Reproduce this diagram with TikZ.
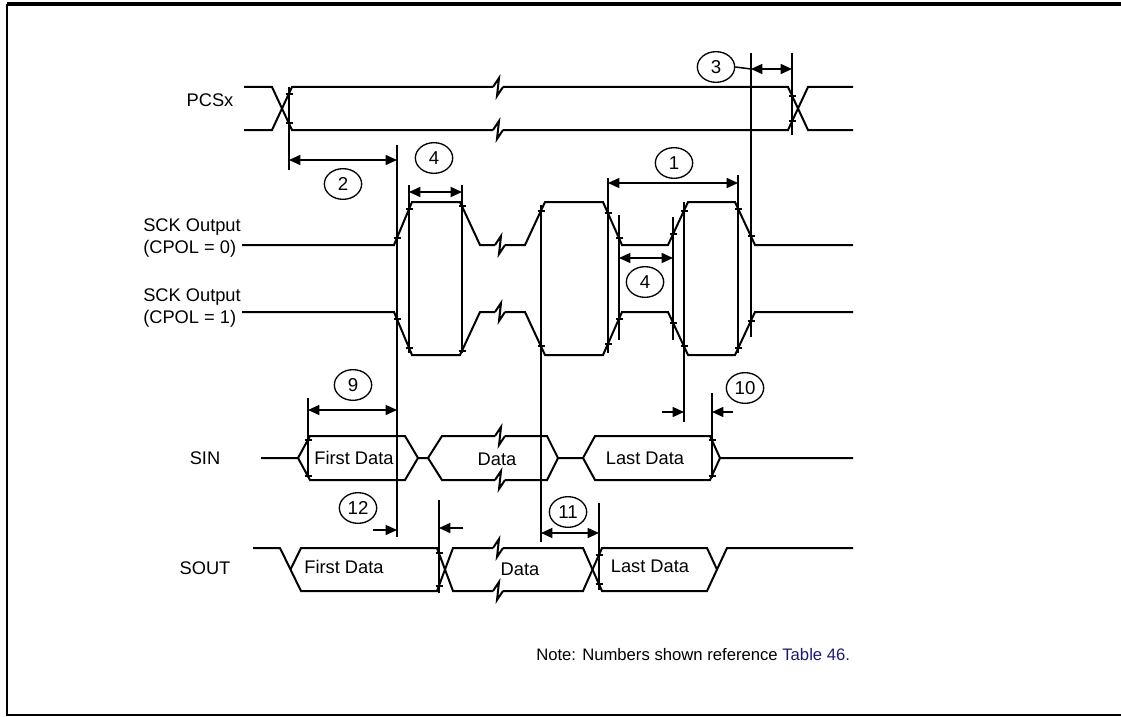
\documentclass[tikz,border=0pt]{standalone}
\usepackage{fontspec}
\setmainfont{Liberation Sans}
\usetikzlibrary{arrows.meta,shapes.geometric}
\definecolor{tabblue}{RGB}{25,25,120}
\newcommand\tk[2]{\draw[tickmark] (#1-3.5,#2) -- (#1+3.5,#2);}
\newcommand\brk[2]{\draw[wave] (#1-5,#2) -- (#1+1,#2-9) -- (#1-1,#2+9) -- (#1+5,#2);}
\begin{document}
\begin{tikzpicture}[x=0.75pt,y=-0.75pt,
  wave/.style={line width=1.5pt},
  vline/.style={line width=1.15pt},
  tickmark/.style={line width=1pt},
  dimarr/.style={line width=1.15pt,{Triangle[length=8.5pt,width=7.5pt]}-{Triangle[length=8.5pt,width=7.5pt]}},
  onearr/.style={line width=1.15pt,-{Triangle[length=8.5pt,width=7.5pt]}},
  numc/.style={ellipse,draw,line width=1pt,inner sep=0pt,minimum width=28pt,minimum height=23pt,font=\fontsize{14}{16}\selectfont},
  lbl/.style={inner sep=0pt,font=\fontsize{13.7}{16.5}\selectfont},
  note/.style={inner sep=0pt,font=\fontsize{12.5}{15}\selectfont}]
\useasboundingbox (0,0) rectangle (1121,717);
% frame
\draw[line width=2.4pt] (7,4) -- (1121,4);
\draw[line width=1.5pt] (7,4) -- (7,715) -- (1121,715);

% labels
\node[lbl] (lpcs) at (210,100) {PCSx};
\node[lbl,anchor=west,align=left] (lsck0) at (143,238) {SCK Output\\(CPOL = 0)};
\node[lbl,anchor=west,align=left] (lsck1) at (143,308) {SCK Output\\(CPOL = 1)};
\node[lbl] (lsin) at (205,458) {SIN};
\node[lbl] (lsout) at (205,568) {SOUT};

% PCSx
\draw[wave] (244,87) -- (272,87) -- (292,130) -- (493,130);
\brk{498}{130}
\draw[wave] (503,130) -- (788,130) -- (808,87) -- (853,87);
\draw[wave] (244,130) -- (272,130) -- (292,87) -- (493,87);
\brk{498}{87}
\draw[wave] (503,87) -- (788,87) -- (808,130) -- (853,130);
\tk{289}{94} \tk{289}{123} \tk{792}{96} \tk{792}{121}

% SCK CPOL=0
\draw[wave] (242,245) -- (394,245) -- (412,202) -- (460,202) -- (480,245) -- (495,245);
\brk{500}{245}
\draw[wave] (505,245) -- (525,245) -- (545,202) -- (603,202) -- (622,245) -- (668,245) -- (688,202) -- (735,202) -- (755,245) -- (853,245);
\tk{397}{238} \tk{409}{209} \tk{462}{206} \tk{541}{211} \tk{608}{213} \tk{619}{238} \tk{673}{234} \tk{684}{211} \tk{738}{209} \tk{751}{236}
% SCK CPOL=1
\draw[wave] (242,312) -- (394,312) -- (412,355) -- (460,355) -- (480,312) -- (495,312);
\brk{500}{312}
\draw[wave] (505,312) -- (525,312) -- (545,355) -- (603,355) -- (622,312) -- (668,312) -- (688,355) -- (735,355) -- (755,312) -- (853,312);
\tk{397}{319} \tk{409}{348} \tk{462}{351} \tk{541}{346} \tk{608}{344} \tk{619}{319} \tk{673}{323} \tk{684}{346} \tk{738}{348} \tk{751}{321}

% SIN
\draw[wave] (261,458) -- (298,458) -- (310,436) -- (405,436) -- (418,458) -- (428,458) -- (442,436) -- (495,436);
\brk{500}{436}
\draw[wave] (505,436) -- (547,436) -- (558,458) -- (583,458) -- (595,436) -- (710,436) -- (720,458) -- (853,458);
\draw[wave] (298,458) -- (310,480) -- (405,480) -- (418,458);
\draw[wave] (428,458) -- (442,480) -- (495,480);
\brk{500}{480}
\draw[wave] (505,480) -- (547,480) -- (558,458);
\draw[wave] (583,458) -- (595,480) -- (710,480) -- (720,458);
\tk{308}{440} \tk{308}{476} \tk{712}{440} \tk{712}{476}
\node[lbl] (sin1) at (354,458) {First Data};
\node[lbl] (sin2) at (497,459) {Data};
\node[lbl] (sin3) at (645,458) {Last Data};

% SOUT
\draw[wave] (253,548) -- (280,548) -- (301,591) -- (437,591) -- (453,548) -- (493,548);
\brk{498}{548}
\draw[wave] (503,548) -- (583,548) -- (602,591) -- (707,591) -- (727,548) -- (853,548);
\draw[wave] (290.5,569.5) -- (301,548) -- (437,548) -- (453,591) -- (493,591);
\brk{498}{591}
\draw[wave] (503,591) -- (583,591) -- (602,548) -- (707,548) -- (717,569.5);
\tk{439}{553} \tk{439}{586} \tk{599}{555} \tk{599}{584}
\node[lbl] (sout1) at (344,567) {First Data};
\node[lbl] (sout2) at (520,569) {Data};
\node[lbl] (sout3) at (650,566) {Last Data};

% vertical reference lines
\coordinate (v1t) at (289,87);  \coordinate (v1b) at (289,170);
\coordinate (v2t) at (397,145); \coordinate (v2b) at (397,537);
\coordinate (v3t) at (409,185); \coordinate (v3b) at (409,353);
\coordinate (v4t) at (462,185); \coordinate (v4b) at (462,353);
\coordinate (v5t) at (541,205); \coordinate (v5b) at (541,542);
\coordinate (v6t) at (608,178); \coordinate (v6b) at (608,353);
\coordinate (v7t) at (619,215); \coordinate (v7b) at (619,340);
\coordinate (v8t) at (673,217); \coordinate (v8b) at (673,340);
\coordinate (v9t) at (684,202); \coordinate (v9b) at (684,422);
\coordinate (v10t) at (738,175); \coordinate (v10b) at (738,353);
\coordinate (v11t) at (751,53); \coordinate (v11b) at (751,337);
\coordinate (v12t) at (792,53); \coordinate (v12b) at (792,135);
\coordinate (v13t) at (308,398); \coordinate (v13b) at (308,477);
\coordinate (v14t) at (712,393); \coordinate (v14b) at (712,478);
\coordinate (v15t) at (439,500); \coordinate (v15b) at (439,593);
\coordinate (v16t) at (599,503); \coordinate (v16b) at (599,590);
\foreach \v in {1,...,16} {\draw[vline] (v\v t) -- (v\v b);}

% number circles
\node[numc] (c1) at (674,163) {1};
\node[numc] (c2) at (343,184) {2};
\node[numc] (c3) at (716,67) {3};
\node[numc] (c4a) at (434,158) {4};
\node[numc] (c4b) at (645,282) {4};
\node[numc] (c9) at (353,385) {9};
\node[numc] (c10) at (745,388) {10};
\node[numc] (c11) at (568,512) {11};
\node[numc] (c12) at (358,508) {12};

% dimension arrows
\draw[dimarr] (289,160) -- (397,160);
\draw[dimarr] (409,192) -- (462,192);
\draw[dimarr] (608,183) -- (738,183);
\draw[dimarr] (619,258) -- (673,258);
\draw[vline] (c3.east) -- (751,69);
\draw[dimarr] (751,69) -- (792,69);
\draw[dimarr] (308,410) -- (397,410);
\draw[onearr] (662,412) -- (684,412);
\draw[onearr] (733,412) -- (712,412);
\draw[onearr] (373,530) -- (397,530);
\draw[onearr] (463,528) -- (439,528);
\draw[dimarr] (541,533) -- (599,533);

% note
\node[note,anchor=west] (nt) at (536,655) {Note: Numbers shown reference \textcolor{tabblue}{Table 46.}};
\end{tikzpicture}
\end{document}
